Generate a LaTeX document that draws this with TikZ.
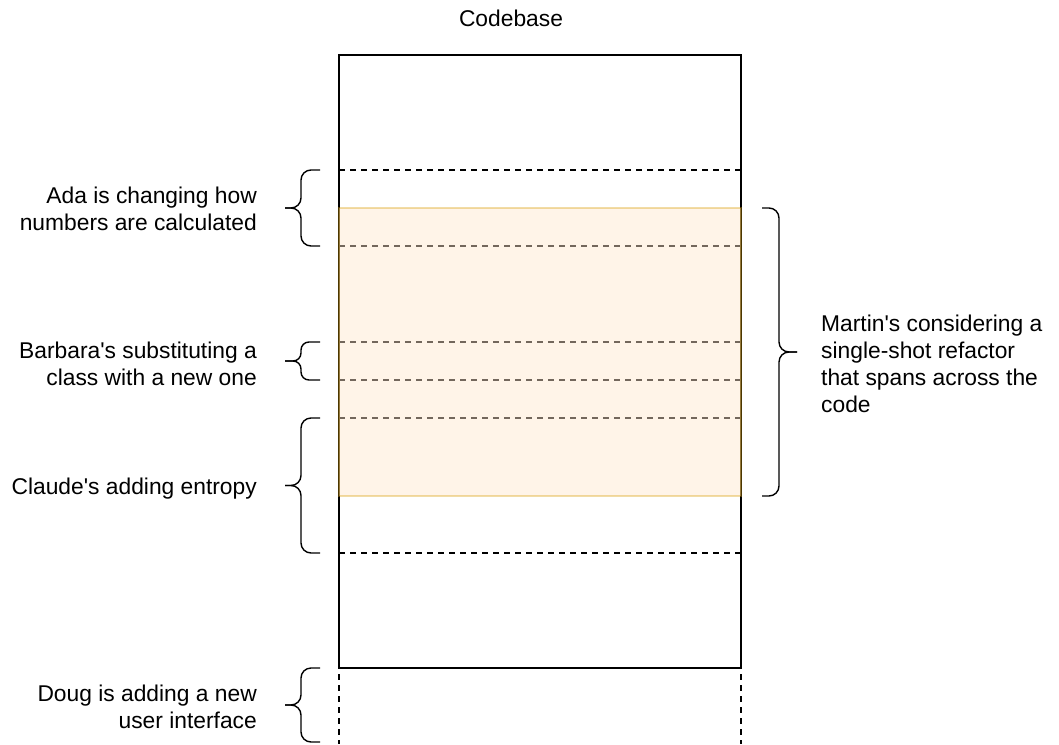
\documentclass[tikz,border=0pt]{standalone}
\usepackage{fontspec}
\setmainfont{Liberation Sans}
\begin{document}
\begin{tikzpicture}[x=1pt,y=-1pt,
  lbl/.style={font=\fontsize{22.8}{27}\selectfont,inner sep=0pt,align=right,anchor=east},
  rlbl/.style={font=\fontsize{22.8}{27}\selectfont,inner sep=0pt,align=left,anchor=west},
  brace/.style={line width=1.4pt,rounded corners=10pt},
  seam/.style={line width=1.4pt,dash pattern=on 6pt off 5pt},
  frame/.style={line width=1.4pt},
  band/.style={fill={rgb,255:red,255;green,230;blue,204},fill opacity=0.45,
    draw={rgb,255:red,215;green,155;blue,0},draw opacity=0.35,line width=1.3pt}]
\useasboundingbox (0,0) rectangle (1059,744);

% codebase frame
\node[font=\fontsize{22.8}{27}\selectfont,inner sep=0pt] (title) at (511,18) {Codebase};
\draw[frame] (339,668) -- (339,55) -- (741,55) -- (741,668) -- cycle;

% seams inside the codebase
\foreach \y in {170,246,342,380,418,553}
  \draw[seam] (339,\y) -- (741,\y);

% open-ended extension below the codebase
\draw[seam] (339,668) ++(0,6) -- (339,744);
\draw[seam] (741,668) ++(0,6) -- (741,744);

% span of the refactor
\node[band,minimum width=402pt,minimum height=288pt,inner sep=0pt,draw] (refactor) at (540,352) {};

% left braces: top y, bottom y
\foreach \a/\b/\r in {170/246/10, 342/380/8, 418/553/10, 668/742/10}{
  \pgfmathsetmacro{\m}{(\a+\b)/2}
  \draw[brace,rounded corners=\r pt] (285,\m) -- (301,\m) -- (301,\a) -- (320,\a);
  \draw[brace,rounded corners=\r pt] (285,\m) -- (301,\m) -- (301,\b) -- (320,\b);
}

% right brace
\draw[brace] (797,352) -- (779,352) -- (779,208) -- (762,208);
\draw[brace] (797,352) -- (779,352) -- (779,496) -- (762,496);

\node[lbl] (ada) at (257,209) {Ada is changing how\\numbers are calculated};
\node[lbl] (barbara) at (257,364) {Barbara\textquotesingle s substituting a\\class with a new one};
\node[lbl] (claude) at (257,489) {Claude\textquotesingle s adding entropy};
\node[lbl] (doug) at (257,707) {Doug is adding a new\\user interface};
\node[rlbl] (martin) at (821,364) {Martin\textquotesingle s considering a\\single-shot refactor\\that spans across the\\code};
\end{tikzpicture}
\end{document}
